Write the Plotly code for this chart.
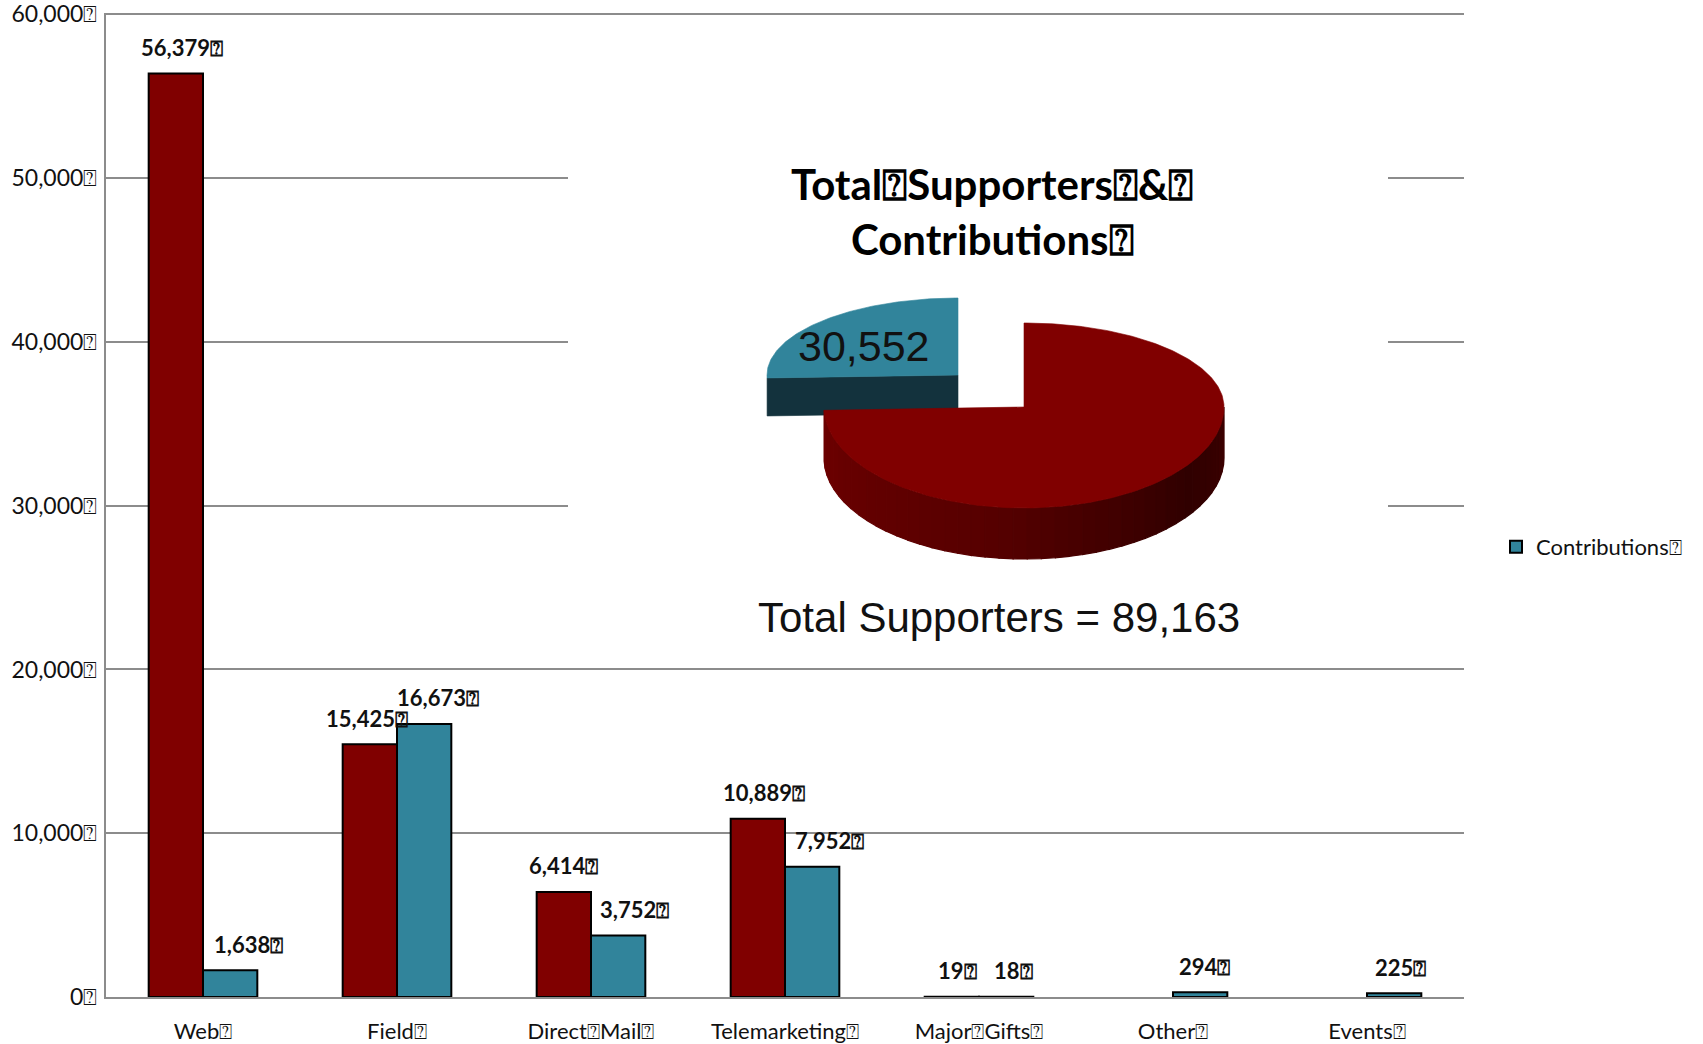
import math
import numpy as np
import plotly.graph_objects as go

BOX = "\u2370"

# ---------------- data ----------------
categories = ["Web", "Field", "Direct" + BOX + "Mail", "Telemarketing",
              "Major" + BOX + "Gifts", "Other", "Events"]
supporters = [56379, 15425, 6414, 10889, 19, None, None]
contributions = [1638, 16673, 3752, 7952, 18, 294, 225]
y_tick_values = [0, 10000, 20000, 30000, 40000, 50000, 60000]
pie_names = ["Total Supporters", "Contributions"]
pie_values = [89163, 30552]

# ---------------- style / layout ----------------
W, H = 1703, 1044
L, R, T, B = 106, 1464, 13, 997
Y_MAX = 60080          # a hair above the top tick so it is kept
RED = "#800000"
TEAL = "#31849b"
GRID = "#8c8c8c"
TXT = "#111111"
BARGAP = 0.44
LABEL_FONT = dict(family="Lato", size=22, color=TXT, weight=700)
# horizontal nudge (px) of the value labels, as drawn in the original
sup_label_dx = [6, -3, 0, 6, 6, 0, 0]
con_label_dx = [18, 14, 16, 17, 7, 4, 6]

cat_labels = [c + BOX for c in categories]
xs = list(range(len(categories)))
half = (1 - BARGAP) / 4.0

fig = go.Figure()
fig.add_trace(go.Bar(
    x=xs, y=supporters, name="Supporters" + BOX, showlegend=False,
    marker=dict(color=RED, line=dict(color="black", width=2)),
    hoverinfo="skip"))
fig.add_trace(go.Bar(
    x=xs, y=contributions, name="Contributions" + BOX, showlegend=True,
    marker=dict(color=TEAL, line=dict(color="black", width=2)),
    hoverinfo="skip"))

annotations = []
for i, v in enumerate(supporters):
    if v is None:
        continue
    annotations.append(dict(x=i - half, y=v, xref="x", yref="y", text=f"{v:,}" + BOX,
                            showarrow=False, yanchor="middle", yshift=26,
                            xshift=sup_label_dx[i], font=LABEL_FONT))
for i, v in enumerate(contributions):
    if v is None:
        continue
    annotations.append(dict(x=i + half, y=v, xref="x", yref="y", text=f"{v:,}" + BOX,
                            showarrow=False, yanchor="middle", yshift=26,
                            xshift=con_label_dx[i], font=LABEL_FONT))

# ---------------- inset 3D-style pie (overlay axes in pixel units) ----------------
def pt(cx, cy, rx, ryu, ryd, deg, dz=0.0):
    a = math.radians(deg)
    s = math.sin(a)
    ry = ryu if s >= 0 else ryd
    return cx + rx * math.cos(a), cy - ry * s + dz

def add_poly(xs_, ys_, color, line_w=0.6):
    fig.add_trace(go.Scatter(x=xs_, y=ys_, xaxis="x2", yaxis="y2", mode="lines",
                             fill="toself", fillcolor=color,
                             line=dict(color=color, width=line_w),
                             hoverinfo="skip", showlegend=False))

# white panel behind the inset
add_poly([568, 1388, 1388, 568, 568], [110, 110, 650, 650, 110], "white", 0)

total = sum(pie_values)
sweep_sup = 360.0 * pie_values[0] / total
sweep_con = 360.0 * pie_values[1] / total
start = 90.0
red_end = start - sweep_sup            # clockwise from 12 o'clock
teal_a0, teal_a1 = start, start + sweep_con

# geometry (style)
rc = dict(cx=1024, cy=407, rx=200, ryu=84, ryd=101)
red_t = 51
tc = dict(cx=958, cy=375, rx=191, ryu=77, ryd=90)
teal_t = 38

# teal cut face (front-facing)
px, py = pt(tc["cx"], tc["cy"], tc["rx"], tc["ryu"], tc["ryd"], teal_a1)
add_poly([tc["cx"], px, px, tc["cx"], tc["cx"]],
         [tc["cy"], py, py + teal_t, tc["cy"] + teal_t, tc["cy"]], "#13323d")
# teal top face
angs = np.linspace(teal_a0, teal_a1, 120)
tx = [tc["cx"]] + [pt(tc["cx"], tc["cy"], tc["rx"], tc["ryu"], tc["ryd"], a)[0] for a in angs] + [tc["cx"]]
ty = [tc["cy"]] + [pt(tc["cx"], tc["cy"], tc["rx"], tc["ryu"], tc["ryd"], a)[1] for a in angs] + [tc["cy"]]
add_poly(tx, ty, TEAL)

# red side with shading
side_a0 = red_end            # left (about 9 o'clock)
side_a1 = 0.0                # right (3 o'clock)
stops = [(0.0, (110, 0, 0)), (0.45, (86, 0, 0)), (0.8, (48, 0, 0)), (1.0, (60, 0, 0))]
def shade(u):
    for (u0, c0), (u1, c1) in zip(stops[:-1], stops[1:]):
        if u <= u1:
            f = (u - u0) / (u1 - u0)
            c = [round(c0[k] + f * (c1[k] - c0[k])) for k in range(3)]
            return "rgb(%d,%d,%d)" % tuple(c)
    return "rgb(%d,%d,%d)" % stops[-1][1]
N = 44
edges = np.linspace(side_a0, side_a1, N + 1)
for k in range(N):
    seg = np.linspace(edges[k], edges[k + 1], 6)
    top = [pt(rc["cx"], rc["cy"], rc["rx"], rc["ryu"], rc["ryd"], a) for a in seg]
    bot = [pt(rc["cx"], rc["cy"], rc["rx"], rc["ryu"], rc["ryd"], a, red_t) for a in seg[::-1]]
    pts_ = top + bot + [top[0]]
    add_poly([p[0] for p in pts_], [p[1] for p in pts_], shade((k + 0.5) / N), 1.2)
# red top face
angs = np.linspace(start, red_end, 300)
rx_ = [rc["cx"]] + [pt(rc["cx"], rc["cy"], rc["rx"], rc["ryu"], rc["ryd"], a)[0] for a in angs] + [rc["cx"]]
ry_ = [rc["cy"]] + [pt(rc["cx"], rc["cy"], rc["rx"], rc["ryu"], rc["ryd"], a)[1] for a in angs] + [rc["cy"]]
add_poly(rx_, ry_, RED)

annotations += [
    dict(x=992, y=211, xref="x2", yref="y2", showarrow=False,
         text="Total" + BOX + "Supporters" + BOX + "&" + BOX + "<br>Contributions" + BOX,
         font=dict(family="Lato", size=42, color="black", weight=700)),
    dict(x=864, y=346, xref="x2", yref="y2", showarrow=False,
         text=f"{pie_values[1]:,}",
         font=dict(family="Liberation Sans", size=43, color=TXT)),
    dict(x=999, y=617, xref="x2", yref="y2", showarrow=False,
         text=f"{pie_names[0]} = {pie_values[0]:,}",
         font=dict(family="Liberation Sans", size=42, color=TXT)),
]

fig.update_layout(
    width=W, height=H,
    margin=dict(l=L, r=W - R, t=T, b=H - B, pad=0, autoexpand=False),
    paper_bgcolor="white", plot_bgcolor="white",
    barmode="group", bargap=BARGAP, bargroupgap=0,
    font=dict(family="Lato", size=22, color=TXT),
    xaxis=dict(tickmode="array", tickvals=xs, ticktext=cat_labels,
               range=[-0.5, len(categories) - 0.5], showgrid=False,
               showline=True, linecolor=GRID, linewidth=2, ticks="",
               ticklabelstandoff=14, tickfont=dict(family="Lato", size=22, color=TXT),
               zeroline=False, automargin=False, ticklabeloverflow="allow"),
    yaxis=dict(range=[0, Y_MAX], tickmode="array", tickvals=y_tick_values,
               ticktext=[f"{v:,}" + BOX for v in y_tick_values],
               showgrid=True, gridcolor=GRID, gridwidth=2,
               showline=True, linecolor=GRID, linewidth=2, ticks="",
               ticklabelstandoff=2, zeroline=False, automargin=False,
               ticklabeloverflow="allow",
               tickfont=dict(family="Lato", size=23, color=TXT)),
    xaxis2=dict(overlaying="x", anchor="y2", range=[L, R], visible=False),
    yaxis2=dict(overlaying="y", anchor="x2", range=[B, T], visible=False),
    legend=dict(x=1496 / W, y=1 - 547 / H, xref="container", yref="container",
                xanchor="left", yanchor="middle", bgcolor="rgba(0,0,0,0)",
                font=dict(family="Lato", size=22, color=TXT)),
    annotations=annotations,
    hovermode=False,
)

fig.write_html("out.html")
